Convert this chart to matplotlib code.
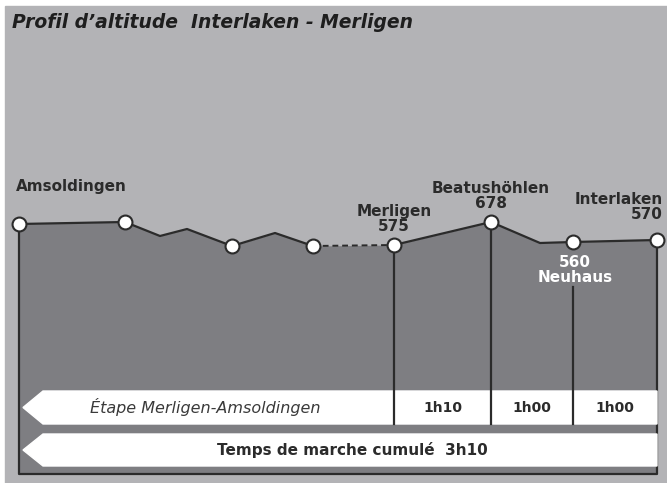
import matplotlib
matplotlib.use("Agg")
import matplotlib.pyplot as plt
from matplotlib.patches import Polygon, Rectangle

# profil schematique (positions le long du trajet, hauteur dessinee)
route_x = [19, 125, 160, 187, 232, 275, 313, 394, 491, 540, 573, 657]
profile_y = [224, 222, 236, 229, 246, 233, 246, 245, 222, 243, 242, 240]
stops = [0, 1, 4, 6, 7, 8, 10, 11]
dashed_seg = (6, 7)

# etapes avec temps de marche
step_idx = [7, 8, 10, 11]
step_times = ["1h10", "1h00", "1h00"]
stage_label = "Étape Merligen-Amsoldingen"
total_label = "Temps de marche cumulé  3h10"
title = "Profil d’altitude  Interlaken - Merligen"

LIGHT = "#b3b3b6"
DARK = "#7e7e82"
INK = "#2b2b2b"
base = 474

fig = plt.figure(figsize=(6.67, 4.83), dpi=100)
ax = fig.add_axes([0, 0, 1, 1])
ax.set_xlim(0, 667)
ax.set_ylim(483, 0)
ax.axis("off")

ax.add_patch(Rectangle((5, 6), 662, 477, color=LIGHT, zorder=0))
ax.text(12, 22, title, fontsize=13.5, fontweight="bold", style="italic",
        color="#1e1e1e", va="center", ha="left")

# zone sous le profil
ax.fill_between(route_x, profile_y, base, color=DARK, zorder=1, linewidth=0)

a, b = dashed_seg
ax.plot(route_x[:a + 1], profile_y[:a + 1], color=INK, lw=1.6, zorder=3)
ax.plot(route_x[a:b + 1], profile_y[a:b + 1], color=INK, lw=1.4, ls=(0, (3, 2)), zorder=3)
ax.plot(route_x[b:], profile_y[b:], color=INK, lw=1.6, zorder=3)

# cadre
ax.plot([route_x[0], route_x[0], route_x[-1], route_x[-1]],
        [profile_y[0], base, base, profile_y[-1]], color=INK, lw=1.6, zorder=2)

# bandeaux
bar1 = (391, 424)
bar2 = (434, 466)
for top, bot in (bar1, bar2):
    mid = (top + bot) / 2
    ax.add_patch(Polygon([(23, mid), (43, top), (route_x[-1], top),
                          (route_x[-1], bot), (43, bot)],
                         closed=True, color="white", zorder=2))

# lignes verticales des etapes
starts = [profile_y[7], profile_y[8], 287]
for i, y0 in zip(step_idx[:3], starts):
    ax.plot([route_x[i], route_x[i]], [y0, bar1[1]], color=INK, lw=1.6, zorder=3)

for k, t in enumerate(step_times):
    x0 = route_x[step_idx[k]]
    x1 = route_x[step_idx[k + 1]]
    ax.text((x0 + x1) / 2, sum(bar1) / 2, t, fontsize=10, fontweight="bold",
            color=INK, ha="center", va="center", zorder=4)

ax.text(205, sum(bar1) / 2, stage_label, fontsize=11.5, style="italic",
        color="#3a3a3a", ha="center", va="center", zorder=4)
ax.text(352, sum(bar2) / 2, total_label, fontsize=11, fontweight="bold",
        color=INK, ha="center", va="center", zorder=4)

# points
ax.plot([route_x[i] for i in stops], [profile_y[i] for i in stops], "o",
        ms=10, mfc="white", mec=INK, mew=1.5, zorder=5)

lab = dict(fontsize=11, fontweight="bold", color=INK, zorder=4, linespacing=1.0)
ax.text(16, 187, "Amsoldingen", ha="left", va="center", **lab)
ax.text(route_x[7], 219, "Merligen\n575", ha="center", va="center", **lab)
ax.text(route_x[8], 196, "Beatushöhlen\n678", ha="center", va="center", **lab)
ax.text(663, 207, "Interlaken\n570", ha="right", va="center", **lab)
lab["color"] = "white"
ax.text(route_x[10] + 2, 270, "560\nNeuhaus", ha="center", va="center", **lab)

fig.savefig("out.png", dpi=100)
